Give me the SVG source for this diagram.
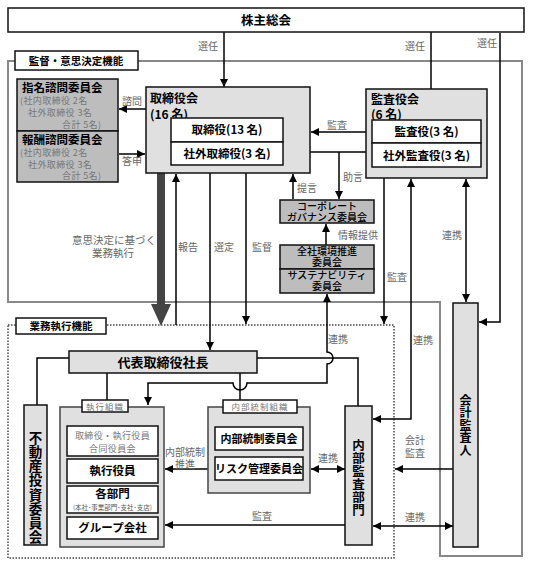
<svg xmlns="http://www.w3.org/2000/svg" width="533" height="563" viewBox="0 0 533 563">
<defs>
<marker id="a" viewBox="0 0 10 10" refX="10" refY="5" markerWidth="8" markerHeight="8" orient="auto-start-reverse" markerUnits="userSpaceOnUse"><path d="M0,0 L10,5 L0,10 z" fill="#000"/></marker>
<style>
text{font-family:"Noto Sans CJK JP","Noto Sans CJK SC",sans-serif}
.w{fill:#fff;stroke:#111;stroke-width:1.5}
.g{fill:#e0e0e0;stroke:#111;stroke-width:1.5}
.d{fill:#bdbdbd;stroke:#111;stroke-width:1.5}
.ln{fill:none;stroke:#000;stroke-width:1.5}
.ar{marker-end:url(#a)}
.bi{marker-start:url(#a);marker-end:url(#a)}
.l{font-size:10px;fill:#666;text-anchor:middle}
.b{font-weight:bold;fill:#000}
.s{font-size:9px;fill:#777;letter-spacing:0.4px}
.c{text-anchor:middle}
.v{writing-mode:vertical-rl;font-weight:bold;fill:#000}
.m{font-size:10px;font-weight:500;text-anchor:middle}
</style>
</defs>
<rect width="533" height="563" fill="#fff"/>
<g id="regions">
<path d="M8,61 H522 V556 H440 V302 H8 Z" fill="none" stroke="#888" stroke-width="2"/>
<rect x="8" y="325" width="386" height="233" fill="none" stroke="#444" stroke-width="1.5" stroke-dasharray="1.5 1.5"/>
</g>
<g id="connectors">
<path class="ln ar" d="M224,32 V87"/>
<path class="ln ar" d="M431,32 V120"/>
<path class="ln ar" d="M500,33 V322 H479"/>
<path class="ln ar" d="M146,109 H119"/>
<path class="ln ar" d="M119,154 H145"/>
<path class="ln ar" d="M366,132 H311"/>
<path class="ln" d="M283,152 H372"/>
<path class="ln ar" d="M339,152 V199"/>
<path class="ln ar" d="M293,199 V174"/>
<path class="ln ar" d="M326,245 V224"/>
<path d="M157,173 V304 H151 L161,326 L171,304 H165 V173 Z" fill="#444"/>
<path class="ln ar" d="M176,325 V174"/>
<path class="ln ar" d="M210,173 V350"/>
<path class="ln ar" d="M246,173 V324"/>
<path class="ln ar" d="M384,178 V324"/>
<path class="ln bi" d="M373,419 H411 V179"/>
<path class="ln bi" d="M466,179 V302"/>
<path class="ln bi" d="M327,294 V352 A6,6 0 0 1 327,364 V383 H247 A7,7 0 0 1 233,383 H148 V405"/>
<path class="ln" d="M69,358 H37 V405"/>
<path class="ln" d="M257,358 H358 V406"/>
<path class="ln" d="M107,373 V400"/>
<path class="ln" d="M240,373 V400"/>
<path class="ln ar" d="M208,469 H165"/>
<path class="ln bi" d="M311,469 H345"/>
<path class="ln ar" d="M345,525 H165"/>
<path class="ln ar" d="M453,469 H395"/>
<path class="ln bi" d="M373,526 H453"/>
</g>
<g id="labels">
<text class="l" x="208" y="50">選任</text>
<text class="l" x="415" y="50">選任</text>
<text class="l" x="487" y="47">選任</text>
<text class="l" x="132" y="105">諮問</text>
<text class="l" x="132" y="165">答申</text>
<text class="l" x="337" y="129">監査</text>
<text class="l" x="307" y="192">提言</text>
<text class="l" x="353" y="181">助言</text>
<text class="l" x="358" y="239">情報提供</text>
<text class="l" style="font-size:10.5px"><tspan x="114" y="244">意思決定に基づく</tspan><tspan x="113" y="257">業務執行</tspan></text>
<text class="l" x="188" y="251">報告</text>
<text class="l" x="224" y="251">選定</text>
<text class="l" x="262" y="251">監督</text>
<text class="l" x="452" y="239">連携</text>
<text class="l" x="397" y="281">監査</text>
<text class="l" x="338" y="343">連携</text>
<text class="l" x="423" y="344">連携</text>
<text class="l"><tspan x="185" y="456">内部統制</tspan><tspan x="185" y="468">推進</tspan></text>
<text class="l" x="328" y="462">連携</text>
<text class="l" x="262" y="520">監査</text>
<text class="l"><tspan x="415" y="444">会計</tspan><tspan x="415" y="457">監査</tspan></text>
<text class="l" x="415" y="521">連携</text>
</g>
<g id="shareholders">
<rect class="w" x="8" y="8" width="516" height="24"/>
<text class="b c" x="266" y="24.5" font-size="12.5">株主総会</text>
</g>
<g id="label-supervision">
<rect class="w" x="15" y="51" width="123" height="19"/>
<text class="b c" x="76" y="65" font-size="10.5">監督・意思決定機能</text>
</g>
<g id="nomination">
<rect class="d" x="17" y="79" width="101" height="52"/>
<text class="b" x="22" y="92" font-size="11.5">指名諮問委員会</text>
<text class="s"><tspan x="20" y="104">(社内取締役 2名</tspan><tspan x="28" y="116">社外取締役 3名</tspan><tspan x="62" y="128">合計 5名)</tspan></text>
</g>
<g id="remuneration">
<rect class="d" x="17" y="131" width="101" height="51"/>
<text class="b" x="22" y="144" font-size="11.5">報酬諮問委員会</text>
<text class="s"><tspan x="20" y="156">(社内取締役 2名</tspan><tspan x="28" y="168">社外取締役 3名</tspan><tspan x="62" y="179">合計 5名)</tspan></text>
</g>
<g id="board">
<rect class="g" x="146" y="87" width="164" height="86"/>
<text class="b" font-size="12"><tspan x="150" y="103">取締役会</tspan><tspan x="150" y="119">(16 名)</tspan></text>
<rect class="w" x="171" y="118" width="112" height="24"/>
<rect class="w" x="171" y="142" width="112" height="23"/>
<text class="b c" x="227" y="134" font-size="11.5">取締役(13 名)</text>
<text class="b c" x="227" y="158" font-size="11.5">社外取締役(3 名)</text>
</g>
<g id="audit-board">
<rect class="g" x="366" y="89" width="121" height="89"/>
<text class="b" font-size="12"><tspan x="371" y="104">監査役会</tspan><tspan x="371" y="119">(6 名)</tspan></text>
<rect class="w" x="372" y="120" width="109" height="23"/>
<rect class="w" x="372" y="143" width="109" height="24"/>
<text class="b c" x="426.5" y="136" font-size="11.5">監査役(3 名)</text>
<text class="b c" x="426.5" y="160" font-size="11.5">社外監査役(3 名)</text>
</g>
<g id="cg">
<rect class="d" x="280" y="200" width="94" height="23"/>
<text class="m"><tspan x="327" y="210">コーポレート</tspan><tspan x="327" y="221">ガバナンス委員会</tspan></text>
</g>
<g id="env">
<rect class="d" x="280" y="245" width="94" height="24"/>
<text class="m"><tspan x="327" y="255">全社環境推進</tspan><tspan x="327" y="266">委員会</tspan></text>
</g>
<g id="sustainability">
<rect class="d" x="280" y="269" width="94" height="24"/>
<text class="m"><tspan x="327" y="279">サステナビリティ</tspan><tspan x="327" y="290">委員会</tspan></text>
</g>
<g id="label-execution">
<rect class="w" x="16" y="318" width="90" height="16"/>
<text class="b c" x="61" y="330" font-size="10.5">業務執行機能</text>
</g>
<g id="president">
<rect class="g" x="69" y="351" width="188" height="22"/>
<text class="b c" x="163" y="367" font-size="13">代表取締役社長</text>
</g>
<g id="realestate">
<rect class="g" x="24" y="405" width="23" height="140"/>
<text class="v" x="35.5" y="431" font-size="13.5" letter-spacing="0.7">不動産投資委員会</text>
</g>
<g id="exec-org">
<rect x="60" y="407" width="104" height="140" fill="#e0e0e0" stroke="#444" stroke-width="1.5"/>
<rect class="w" x="82" y="400" width="46" height="12"/>
<text class="c" x="105" y="409.5" font-size="8.5" fill="#777" letter-spacing="1">執行組織</text>
<rect class="w" x="67" y="426" width="91" height="30"/>
<text class="s c"><tspan x="112.5" y="439">取締役・執行役員</tspan><tspan x="112.5" y="452">合同役員会</tspan></text>
<rect class="w" x="67" y="459" width="91" height="24"/>
<text class="b c" x="112.5" y="475" font-size="11.5">執行役員</text>
<rect class="w" x="67" y="486" width="91" height="27"/>
<text class="b c" x="112.5" y="498" font-size="11.5">各部門</text>
<text class="c" x="112.5" y="510" font-size="6.5" fill="#555">(本社･事業部門･支社･支店)</text>
<rect class="w" x="67" y="517" width="91" height="22"/>
<text class="b c" x="112.5" y="532" font-size="11.5">グループ会社</text>
</g>
<g id="ic-org">
<rect x="208" y="407" width="102" height="86" fill="#e0e0e0" stroke="#444" stroke-width="1.5"/>
<rect class="w" x="223" y="400" width="74" height="13"/>
<text class="c" x="260" y="410" font-size="8.5" fill="#777" letter-spacing="1">内部統制組織</text>
<rect class="w" x="215" y="427" width="88" height="23"/>
<text class="b c" x="259" y="443" font-size="11">内部統制委員会</text>
<rect class="w" x="215" y="457" width="88" height="23"/>
<text class="b c" x="259" y="473" font-size="11">リスク管理委員会</text>
</g>
<g id="internal-audit">
<rect class="g" x="345" y="406" width="27" height="139"/>
<text class="v" x="358.5" y="438.5" font-size="12.5" letter-spacing="0.5">内部監査部門</text>
</g>
<g id="accounting-auditor">
<rect class="g" x="453" y="303" width="25" height="244"/>
<text class="v" x="465.5" y="394" font-size="12" letter-spacing="0.5">会計監査人</text>
</g>
</svg>
